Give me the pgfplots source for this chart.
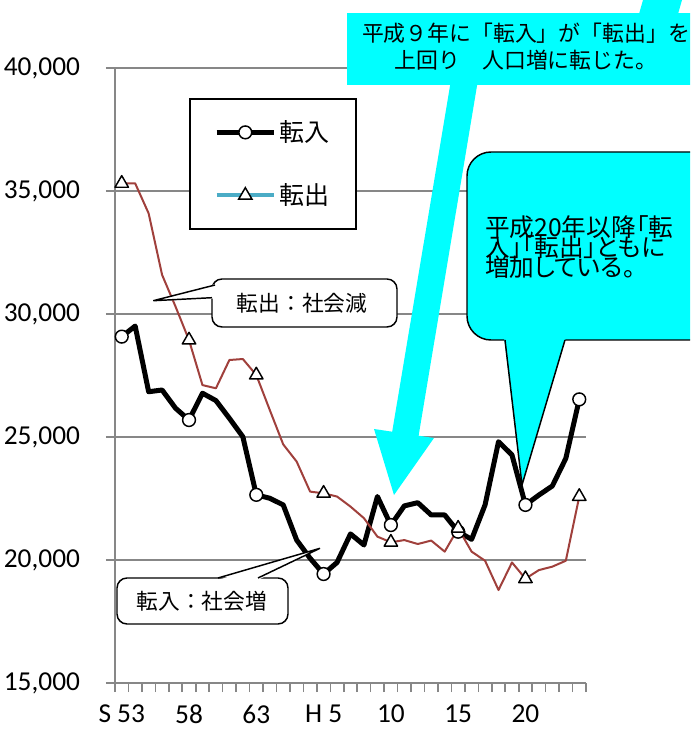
\documentclass[border=0pt]{standalone}
\usepackage{fontspec}
\setmainfont{Noto Sans CJK JP}
\newfontfamily\propfont[RawFeature=+palt]{Noto Sans CJK JP}
\newfontfamily\numfont{Carlito}
\usepackage{pgfplots}
\pgfplotsset{compat=1.18}
\definecolor{tenshutsu}{HTML}{A0403C}
\definecolor{legblue}{HTML}{4BACC6}
\definecolor{gridgray}{HTML}{878787}
\definecolor{callcyan}{HTML}{00FFFF}

% year index (0 = S53 ... 34 = H24), in-migration, out-migration
\usepackage{pgfplotstable}
\pgfplotstableread{
idx tennyu tenshutsu
0  29080 35310
1  29510 35310
2  26840 34090
3  26910 31590
4  26170 30300
5  25690 28940
6  26780 27110
7  26480 26980
8  25760 28130
9  25010 28170
10 22650 27520
11 22510 26100
12 22240 24700
13 20810 24000
14 20070 22780
15 19430 22710
16 19900 22580
17 21060 22170
18 20610 21700
19 22580 20950
20 21420 20720
21 22200 20810
22 22330 20650
23 21830 20790
24 21830 20340
25 21150 21290
26 20840 20340
27 22240 19970
28 24810 18780
29 24270 19900
30 22240 19240
31 22640 19590
32 23010 19730
33 24130 19970
34 26530 22580
}\migration

\begin{document}
\begin{tikzpicture}[px/.style={x=0.75pt,y=-0.75pt,shift={(-86.25pt,512.25pt)}}]
\path[px,use as bounding box] (0,0) rectangle (690,729);
\clip[px] (0,0) rectangle (690,729);
\begin{axis}[
  scale only axis,
  width=353.25pt, height=461.25pt,
  at={(0pt,0pt)}, anchor=south west,
  xmin=-0.5, xmax=34.5,
  ymin=15000, ymax=40000,
  axis lines*=left,
  axis line style={gridgray, line width=1.2pt},
  ytick={15000,20000,...,40000},
  scaled y ticks=false,
  ymajorgrids,
  grid style={gridgray, line width=1.2pt},
  xtick={0,5,...,30},
  xticklabels={S 53,58,63,H 5,10,15,20},
  minor xtick={-0.5,0.5,...,34.5},
  tick align=outside,
  major tick length=6.75pt,
  minor tick length=6.75pt,
  tick style={gridgray, line width=1.2pt},
  major x tick style={draw=none},
  yticklabel={\pgfmathprintnumber[assume math mode=true,1000 sep={,}]{\tick}},
  ticklabel style={font=\numfont\fontsize{20.5}{24}\selectfont},
  yticklabel style={xshift=-16pt},
  xticklabel style={yshift=-6pt},
  legend cell align=left,
  legend image code/.code={\draw[mark repeat=2,mark phase=2,#1] plot coordinates {(0pt,0pt) (21.5pt,0pt) (43pt,0pt)};},
  legend style={at={(0.158,0.951)}, anchor=north west, draw=black, line width=1.1pt,
    fill=white, font=\fontsize{18.75}{22}\selectfont,
    inner xsep=18pt, inner ysep=14.5pt, row sep=26pt},
]
\addlegendimage{black, line width=3.75pt, mark=*, mark size=4.8pt,
  mark options={fill=white, draw=black, line width=1.1pt}}
\addlegendentry{転入}
\addlegendimage{legblue, line width=3pt, mark=triangle*, mark size=5.8pt,
  mark options={fill=white, draw=black, line width=1.1pt}}
\addlegendentry{転出}

\addplot[forget plot, black, line width=3.75pt, line join=round,
  mark=*, mark size=4.8pt, mark indices={1,6,11,16,21,26,31,35},
  mark options={fill=white, draw=black, line width=1.1pt}]
  table[x=idx, y=tennyu] {\migration};
\addplot[forget plot, tenshutsu, line width=1.5pt, line join=round,
  mark=triangle*, mark size=5.8pt, mark indices={1,6,11,16,21,26,31,35},
  mark options={fill=white, draw=black, line width=1.1pt}]
  table[x=idx, y=tenshutsu] {\migration};
\end{axis}

\begin{scope}[px]
% big cyan arrow behind the top note
\fill[callcyan] (643,0) -- (682,0) -- (678,14) -- (639,14) -- cycle;
\fill[callcyan] (451,80) -- (392.2,431.7) -- (374,429) -- (394,495)
  -- (434,438) -- (418.6,435.7) -- (478,80) -- cycle;
\fill[callcyan] (347,13) rectangle (700,85);
\node[align=center, font=\fontsize{16.4}{20.3}\selectfont, inner sep=0pt]
  at (526,47) {平成９年に「転入」が「転出」を\\上回り　人口増に転じた。};

% cyan callout
\filldraw[fill=callcyan, draw=black, line width=1.1pt, rounded corners=18pt]
  (467,152) rectangle (740,340);
\fill[callcyan] (504,337) -- (522,485) -- (566,337) -- cycle;
\draw[line width=1.1pt, line join=round] (505,340) -- (522,485) -- (565,340);
\node[anchor=north west, align=left, inner sep=0pt,
  font=\propfont\fontsize{18.5}{15.4}\selectfont] at (485,215)
  {平成20年以降「転\\[-3pt]入」「転出」ともに\\[-3pt]増加している。};

% white callouts
\filldraw[fill=white, draw=black, line width=1.1pt, rounded corners=7.5pt]
  (212,279) rectangle (397,327);
\fill[white] (215,284) -- (153,301) -- (214,298.5) -- cycle;
\draw[line width=1.1pt, line join=miter] (215,285) -- (153.3,300.7) -- (212,297.7);
\node[font=\fontsize{16.3}{20}\selectfont] at (302,303) {転出：社会減};

\filldraw[fill=white, draw=black, line width=1.1pt, rounded corners=7.5pt]
  (117,578) rectangle (288,624);
\fill[white] (218,580) -- (320,548) -- (258,580) -- cycle;
\draw[line width=1.1pt] (218,578) -- (320,548.3) -- (258,578);
\node[font=\fontsize{16.3}{20}\selectfont] at (202,601) {転入：社会増};
\end{scope}
\end{tikzpicture}
\end{document}
